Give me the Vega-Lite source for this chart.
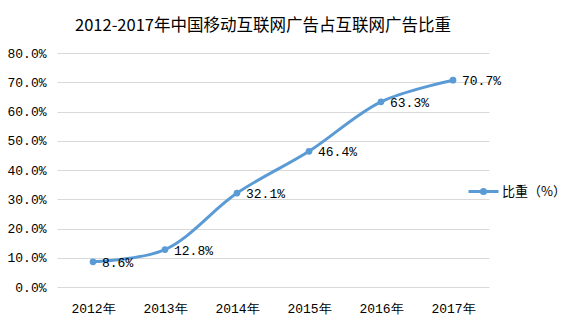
{
  "$schema": "https://vega.github.io/schema/vega-lite/v6.json",
  "width": 432,
  "height": 234,
  "autosize": {"type": "none"},
  "padding": {"left": 57, "top": 53, "right": 89, "bottom": 41},
  "background": "white",
  "title": {
    "text": "2012-2017年中国移动互联网广告占互联网广告比重",
    "font": "Noto Sans CJK SC",
    "fontSize": 16.5,
    "fontWeight": "normal",
    "color": "#000000",
    "offset": 13,
    "dx": -10
  },
  "data": {
    "values": [
      {"year": "2012年", "value": 8.6, "label": "8.6%", "series": "比重（%）"},
      {"year": "2013年", "value": 12.8, "label": "12.8%", "series": "比重（%）"},
      {"year": "2014年", "value": 32.1, "label": "32.1%", "series": "比重（%）"},
      {"year": "2015年", "value": 46.4, "label": "46.4%", "series": "比重（%）"},
      {"year": "2016年", "value": 63.3, "label": "63.3%", "series": "比重（%）"},
      {"year": "2017年", "value": 70.7, "label": "70.7%", "series": "比重（%）"}
    ]
  },
  "encoding": {
    "x": {
      "field": "year", "type": "ordinal", "title": null,
      "scale": {"paddingInner": 0, "paddingOuter": 0.5},
      "axis": {"domain": false, "ticks": false, "grid": false, "labelAngle": 0, "labelFont": "Liberation Mono", "labelFontSize": 13, "labelColor": "#000000", "labelPadding": 15}
    },
    "y": {
      "field": "value", "type": "quantitative", "title": null,
      "scale": {"domain": [0, 80], "nice": false},
      "axis": {"values": [0, 10, 20, 30, 40, 50, 60, 70, 80], "domain": false, "ticks": false, "labelExpr": "format(datum.value, '.1f') + '%'", "labelFont": "Liberation Mono", "labelFontSize": 13, "labelColor": "#000000", "labelPadding": 11, "gridColor": "#D9D9D9", "gridWidth": 1}
    }
  },
  "layer": [
    {
      "mark": {"type": "line", "interpolate": "catmull-rom", "strokeWidth": 3},
      "encoding": {
        "color": {
          "field": "series", "type": "nominal", "title": null,
          "scale": {"range": ["#5B9BD5"]},
          "legend": {
            "orient": "none", "legendX": 410, "legendY": 122,
            "labelFont": "Noto Sans CJK SC", "labelFontSize": 13, "labelColor": "#000000",
            "symbolType": "M-1,0H1M-0.14,0A0.14,0.14 0 1,1 0.14,0A0.14,0.14 0 1,1 -0.14,0Z",
            "symbolSize": 900, "symbolStrokeWidth": 3, "labelOffset": 2,
            "encode": {"symbols": {"update": {"fill": {"value": "#5B9BD5"}, "stroke": {"value": "#5B9BD5"}, "strokeWidth": {"value": 3}}}}
          }
        }
      }
    },
    {
      "mark": {"type": "point", "filled": true, "size": 45, "color": "#5B9BD5", "opacity": 1}
    },
    {
      "mark": {"type": "text", "align": "left", "baseline": "middle", "dx": 9, "dy": 1, "font": "Liberation Mono", "fontSize": 13, "color": "#000000"},
      "encoding": {"text": {"field": "label"}}
    }
  ],
  "config": {"view": {"stroke": null}}
}
